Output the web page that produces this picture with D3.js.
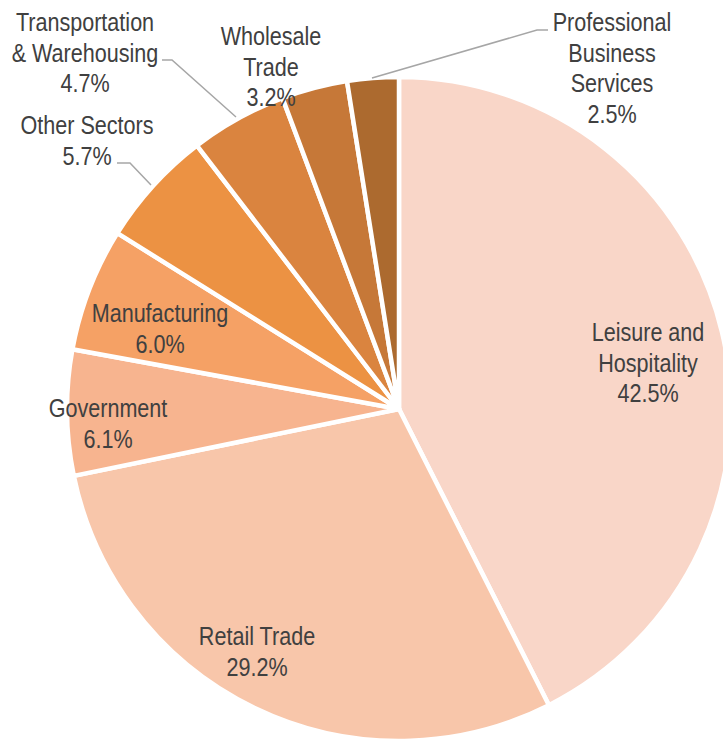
<!DOCTYPE html>
<html>
<head>
<meta charset="utf-8">
<script src="https://cdn.jsdelivr.net/npm/d3@7"></script>
<style>
  body { margin: 0; background: #fff; }
  text { font-family: "Liberation Sans", Arial, sans-serif; font-size: 26px; fill: #404040; }
</style>
</head>
<body>
<script>
// sectors, clockwise from 12 o'clock
var sectors = ["Leisure and Hospitality", "Retail Trade", "Government", "Manufacturing",
               "Other Sectors", "Transportation & Warehousing", "Wholesale Trade", "Professional Business Services"];
var shares = [42.5, 29.2, 6.1, 6.0, 5.7, 4.7, 3.2, 2.5];
var labelLines = [["Leisure and", "Hospitality"], ["Retail Trade"], ["Government"], ["Manufacturing"],
                  ["Other Sectors"], ["Transportation", "& Warehousing"], ["Wholesale", "Trade"],
                  ["Professional", "Business", "Services"]];
var colors = ["#F9D6C8", "#F8C6AA", "#F7B48F", "#F5A165", "#EC9243", "#DA843F", "#C67838", "#AC6A2F"];

var width = 723, height = 739;
var cx = 399, cy = 409, radius = 332;

// label layout: centre x, first line y, and optional leader line points
var labelLayout = [
  {x: 648, y: 332},
  {x: 257, y: 636},
  {x: 108, y: 408},
  {x: 160, y: 313},
  {x: 87, y: 125, leader: [[117, 163], [130, 163], [151, 185]]},
  {x: 85, y: 22, leader: [[162, 60], [172, 60], [236, 117]]},
  {x: 271, y: 36},
  {x: 612, y: 22, leader: [[548, 30], [537, 30], [372, 78]]}
];

var data = sectors.map(function(s, i) {
  return {sector: s, share: shares[i], lines: labelLines[i], color: colors[i], layout: labelLayout[i]};
});

var svg = d3.select("body").append("svg")
    .attr("width", width)
    .attr("height", height);

var pie = d3.pie()
    .sort(null)
    .value(function(d) { return d.share; });

var arc = d3.arc()
    .innerRadius(0)
    .outerRadius(radius);

var g = svg.append("g")
    .attr("transform", "translate(" + cx + "," + cy + ")");

g.selectAll("path")
    .data(pie(data))
    .enter()
    .append("path")
    .attr("d", arc)
    .attr("fill", function(d) { return d.data.color; })
    .attr("stroke", "#fff")
    .attr("stroke-width", 4.5)
    .attr("stroke-linejoin", "round");

// leader lines
svg.selectAll("polyline")
    .data(data.filter(function(d) { return d.layout.leader; }))
    .enter()
    .append("polyline")
    .attr("points", function(d) { return d.layout.leader.join(" "); })
    .attr("fill", "none")
    .attr("stroke", "#A6A6A6")
    .attr("stroke-width", 1.5);

// labels (narrow face faked by squeezing the regular one)
var labels = svg.selectAll("text.label")
    .data(data)
    .enter()
    .append("text")
    .attr("class", "label")
    .attr("text-anchor", "middle")
    .attr("transform", function(d) {
      return "translate(" + d.layout.x + "," + d.layout.y + ") scale(0.83,1)";
    });

labels.each(function(d) {
  var t = d3.select(this);
  var all = d.lines.concat([d.share.toFixed(1) + "%"]);
  all.forEach(function(line, i) {
    t.append("tspan")
      .attr("x", 0)
      .attr("dy", i === 0 ? "0.35em" : 30.5)
      .text(line);
  });
});
</script>
</body>
</html>
